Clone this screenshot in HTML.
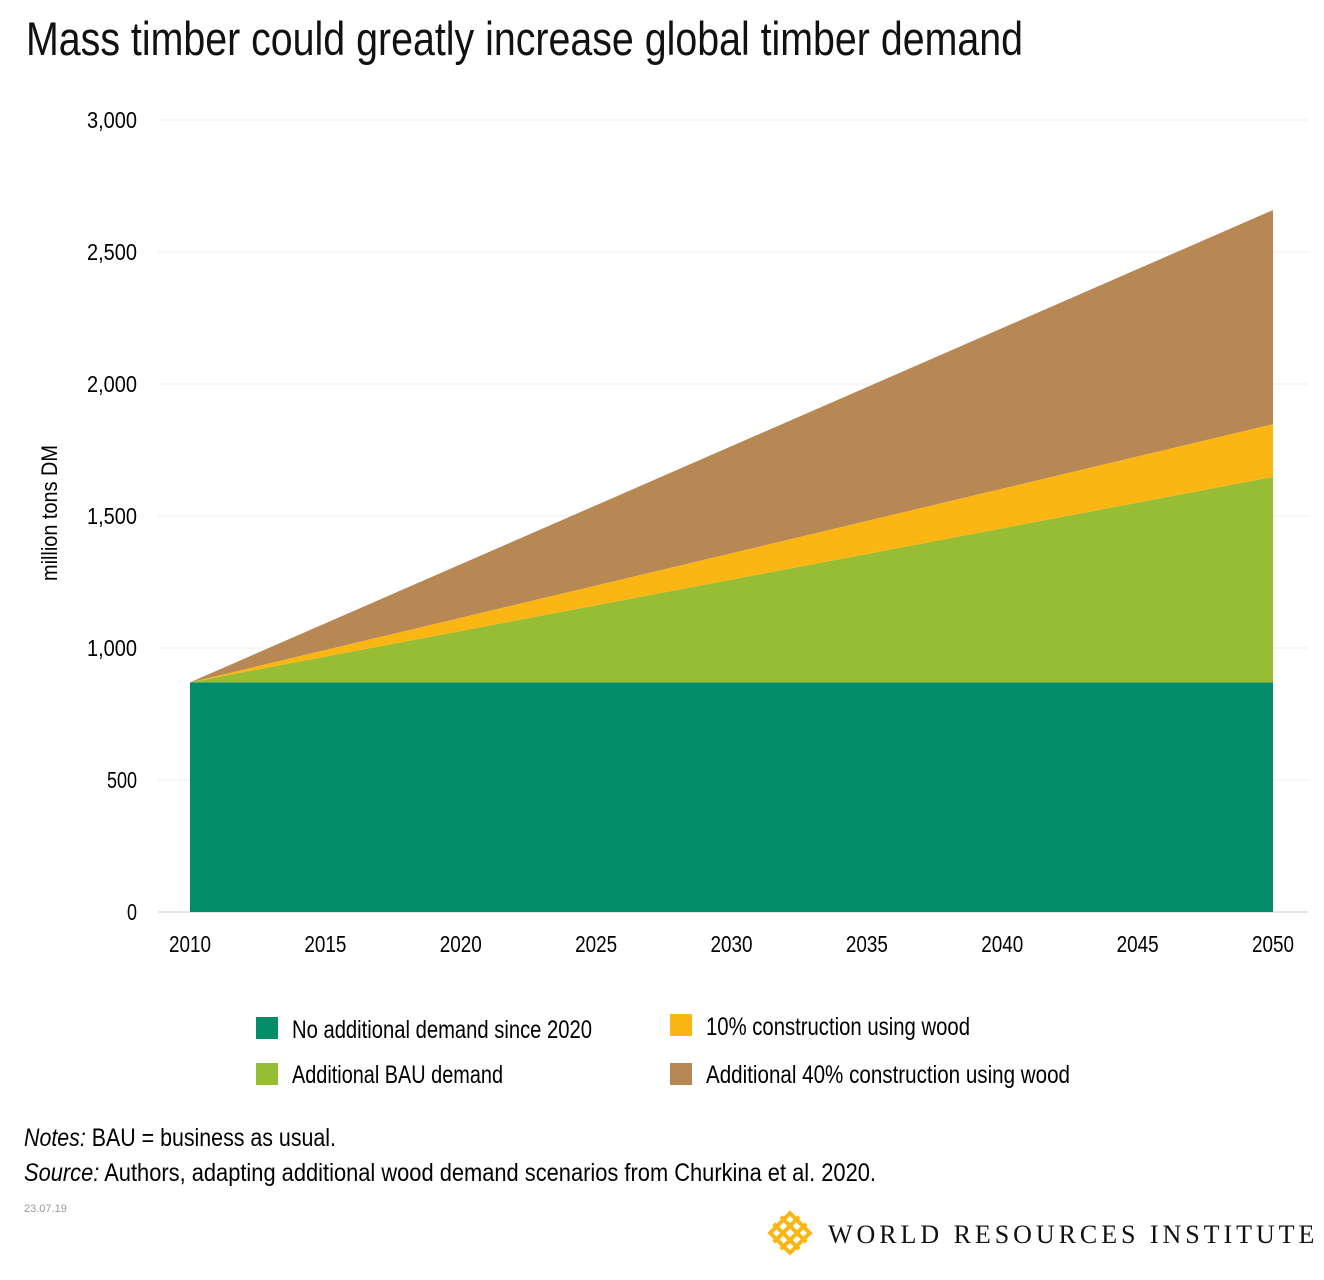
<!DOCTYPE html>
<html><head><meta charset="utf-8">
<style>
body{margin:0;width:1324px;height:1280px;background:#fff;overflow:hidden;font-family:"Liberation Sans",sans-serif;color:#1a1a1a}
svg{position:absolute;left:0;top:0}
</style></head>
<body>
<svg id="chart" width="1324" height="1280">
<text x="26" y="55" font-size="47" fill="#111" textLength="997" lengthAdjust="spacingAndGlyphs">Mass timber could greatly increase global timber demand</text>
<text transform="translate(57,513) rotate(-90)" text-anchor="middle" font-size="22" textLength="136" lengthAdjust="spacingAndGlyphs">million tons DM</text>
<g id="grid"></g><g id="areas"></g><g id="ticks"></g>
<g>
<rect x="256" y="1017" width="22" height="22" fill="#038c69"/>
<text x="292" y="1038" font-size="25" textLength="300" lengthAdjust="spacingAndGlyphs">No additional demand since 2020</text>
<rect x="256" y="1063" width="22" height="22" fill="#97bd35"/>
<text x="292" y="1083" font-size="25" textLength="211" lengthAdjust="spacingAndGlyphs">Additional BAU demand</text>
<rect x="670" y="1014" width="22" height="22" fill="#fbb614"/>
<text x="706" y="1035" font-size="25" textLength="264" lengthAdjust="spacingAndGlyphs">10% construction using wood</text>
<rect x="670" y="1063" width="22" height="22" fill="#b88854"/>
<text x="706" y="1083" font-size="25" textLength="364" lengthAdjust="spacingAndGlyphs">Additional 40% construction using wood</text>
</g>
<text x="24" y="1146" font-size="25" textLength="312" lengthAdjust="spacingAndGlyphs"><tspan font-style="italic">Notes:</tspan> BAU = business as usual.</text>
<text x="24" y="1181" font-size="25" textLength="852" lengthAdjust="spacingAndGlyphs"><tspan font-style="italic">Source:</tspan> Authors, adapting additional wood demand scenarios from Churkina et al. 2020.</text>
<text x="24" y="1212" font-size="11" fill="#999">23.07.19</text>
<g transform="translate(790,1233) rotate(45)" fill="none" stroke="#fbb614" stroke-width="4">
<rect x="-14" y="-14" width="28" height="28"/><line x1="-5" y1="-18" x2="-5" y2="18"/><line x1="5" y1="-18" x2="5" y2="18"/><line x1="-18" y1="-5" x2="18" y2="-5"/><line x1="-18" y1="5" x2="18" y2="5"/>
</g>
<text x="828" y="1243" font-family="Liberation Serif,serif" font-size="26" letter-spacing="3.6" fill="#111" textLength="490">WORLD RESOURCES INSTITUTE</text>
</svg>
<script>
const years=[2010,2050];
const baseVals=[870,870];
const bauVals=[0,778];
const tenVals=[0,200];
const fortyVals=[0,811];
const yTicks=[0,500,1000,1500,2000,2500,3000];
const yTickLabels=["0","500","1,000","1,500","2,000","2,500","3,000"];
const xTicks=[2010,2015,2020,2025,2030,2035,2040,2045,2050];
const NS="http://www.w3.org/2000/svg";
const X=v=>190+(v-2010)*(1273-190)/40;
const Y=v=>912-v*0.264;
const grid=document.getElementById('grid'),areas=document.getElementById('areas'),ticks=document.getElementById('ticks');
yTicks.forEach((t,i)=>{
 const l=document.createElementNS(NS,'line');
 l.setAttribute('x1',158);l.setAttribute('x2',1308);l.setAttribute('y1',Y(t));l.setAttribute('y2',Y(t));
 l.setAttribute('stroke',t===0?'#ccc':'#eee');l.setAttribute('stroke-width',1);
 
 
 grid.appendChild(l);
 const tx=document.createElementNS(NS,'text');
 tx.setAttribute('x',137);tx.setAttribute('y',Y(t)+8);tx.setAttribute('text-anchor','end');tx.setAttribute('font-size','23');
 tx.setAttribute('textLength',yTickLabels[i].length*10);tx.setAttribute('lengthAdjust','spacingAndGlyphs');
 tx.textContent=yTickLabels[i];
 
 
 ticks.appendChild(tx);
});
xTicks.forEach(t=>{
 const tx=document.createElementNS(NS,'text');
 tx.setAttribute('x',X(t));tx.setAttribute('y',952);tx.setAttribute('text-anchor','middle');tx.setAttribute('font-size','23');
 tx.setAttribute('textLength',42);tx.setAttribute('lengthAdjust','spacingAndGlyphs');
 tx.textContent=t;
 
 
 ticks.appendChild(tx);
});
const series=[baseVals,bauVals,tenVals,fortyVals];
const colors=['#038c69','#97bd35','#fbb614','#b88854'];
const names=['area-base','area-bau','area-10pct','area-40pct'];
let lower=years.map(()=>0);
series.forEach((s,k)=>{
 const upper=s.map((v,i)=>v+lower[i]);
 let d='';
 years.forEach((yr,i)=>{d+=(i?'L':'M')+X(yr)+','+Y(upper[i]);});
 for(let i=years.length-1;i>=0;i--)d+='L'+X(years[i])+','+Y(lower[i]);
 const p=document.createElementNS(NS,'path');
 p.setAttribute('d',d+'Z');p.setAttribute('fill',colors[k]);
 
 
 areas.appendChild(p);
 lower=upper;
});
</script>
</body></html>
